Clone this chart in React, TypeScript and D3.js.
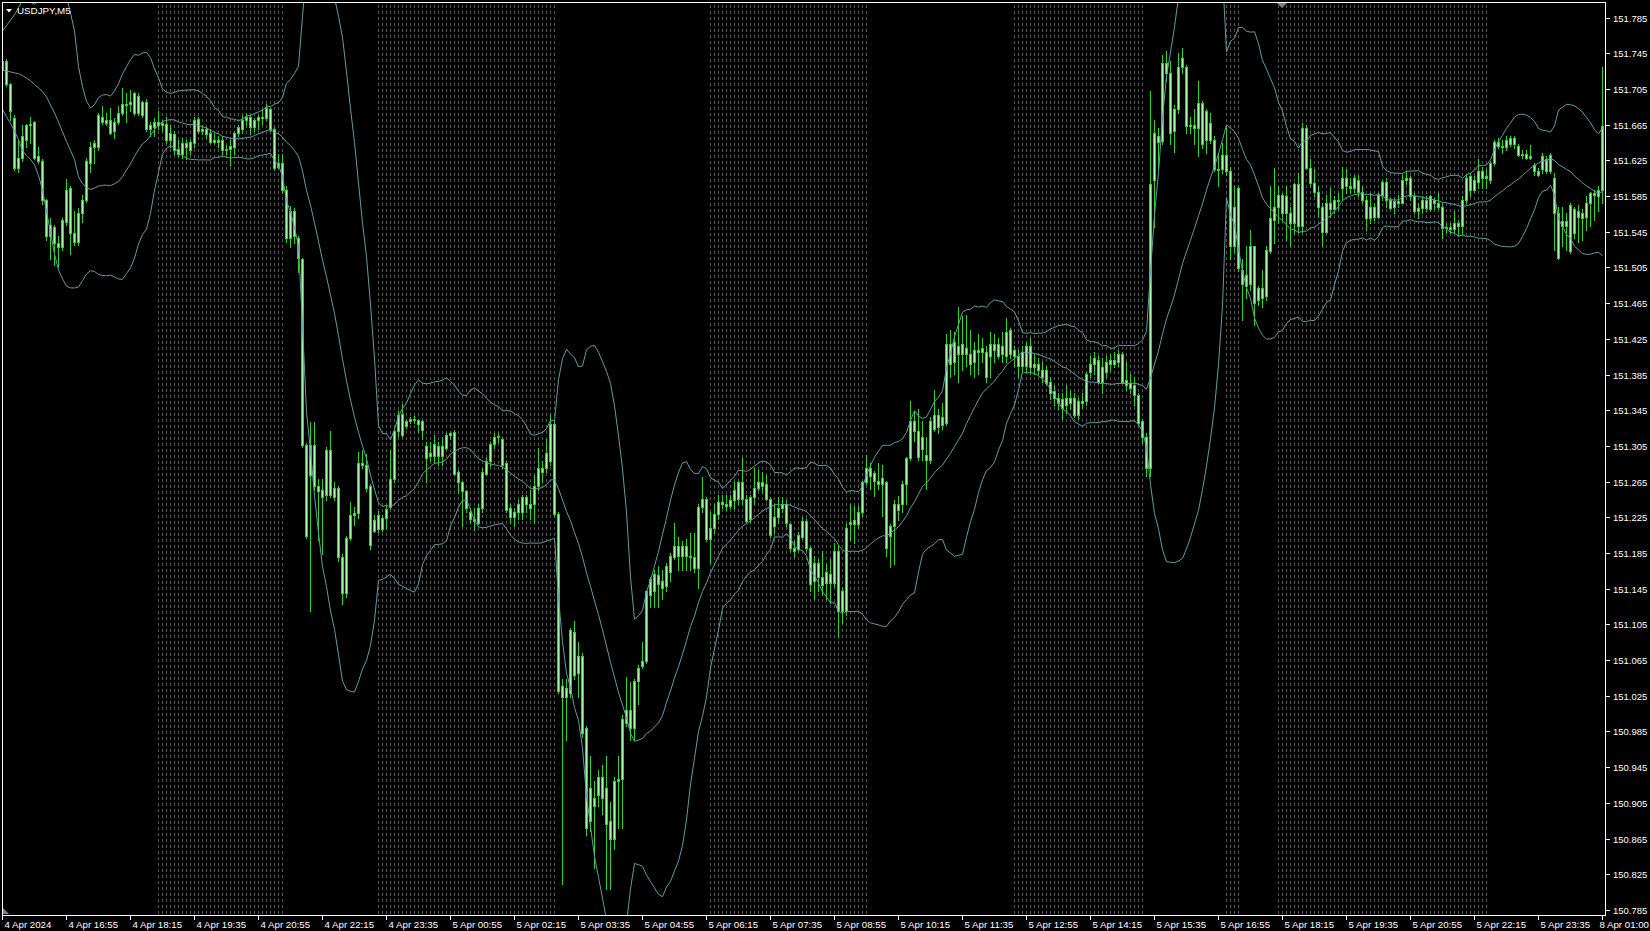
import React, { useEffect, useRef } from "react";
import * as d3 from "d3";

const W = 1650;
const H = 931;
const PLOT = { left: 2, top: 2, right: 1605, bottom: 915 };

const symbolLabel = "USDJPY,M5";

const opens = [
151.726,151.736,151.710,151.672,151.616,151.628,151.648,151.664,151.668,151.630,
151.624,151.580,151.540,151.550,151.532,151.528,151.556,151.594,151.544,151.534,
151.566,151.580,151.622,151.640,151.640,151.674,151.670,151.670,151.658,151.668,
151.678,151.688,151.688,151.678,151.697,151.676,151.690,151.660,151.668,151.664,
151.667,151.666,151.648,151.654,151.638,151.632,151.644,151.636,151.644,151.671,
151.658,151.660,151.656,151.646,151.648,151.648,151.636,151.638,151.640,151.656,
151.660,151.670,151.674,151.662,151.670,151.674,151.672,151.682,151.660,151.618,
151.622,151.592,151.538,151.568,151.538,151.514,151.306,151.272,151.306,151.260,
151.256,151.250,151.300,151.248,151.258,151.180,151.140,151.202,151.228,151.230,
151.286,151.284,151.260,151.210,151.228,151.212,151.224,151.236,151.268,151.322,
151.341,151.327,151.333,151.335,151.334,151.333,151.305,151.294,151.294,151.305,
151.294,151.303,151.317,151.321,151.276,151.264,151.254,151.231,151.223,151.219,
151.235,151.274,151.288,151.307,151.315,151.313,151.286,151.235,151.225,151.231,
151.231,151.248,151.240,151.240,151.260,151.280,151.280,151.288,151.329,151.229,
151.036,151.024,151.028,151.097,151.050,151.070,150.989,150.885,150.910,150.914,
150.934,150.922,150.885,150.865,150.930,150.932,150.995,151.009,150.989,151.042,
151.058,151.064,151.138,151.162,151.150,151.154,151.148,151.164,151.180,151.193,
151.182,151.193,151.182,151.180,151.168,151.237,151.246,151.201,151.213,151.229,
151.242,151.240,151.238,151.244,151.246,151.264,151.246,151.223,151.248,151.258,
151.264,151.262,151.246,151.215,151.225,151.235,151.240,151.217,151.191,151.189,
151.203,151.221,151.191,151.154,151.174,151.158,151.151,151.162,151.151,151.187,
151.120,151.120,151.218,151.218,151.218,151.231,151.264,151.280,151.275,151.266,
151.262,151.264,151.204,151.215,151.240,151.240,151.262,151.291,151.333,151.322,
151.302,151.295,151.289,151.324,151.340,151.328,151.331,151.419,151.399,151.417,
151.408,151.415,151.408,151.399,151.413,151.410,151.410,151.406,151.419,151.406,
151.417,151.406,151.435,151.413,151.406,151.395,151.417,151.393,151.397,151.397,
151.390,151.390,151.377,151.366,151.359,151.357,151.351,151.359,151.359,151.340,
151.355,151.355,151.388,151.397,151.401,151.377,151.388,151.397,151.401,151.399,
151.408,151.379,151.375,151.373,151.362,151.333,151.315,151.280,151.603,151.645,
151.647,151.734,151.723,151.658,151.683,151.729,151.729,151.663,151.665,151.661,
151.689,151.648,151.667,151.648,151.615,151.615,151.631,151.613,151.529,151.594,
151.502,151.484,151.486,151.529,151.469,151.482,151.473,151.523,151.558,151.573,
151.586,151.566,151.566,151.555,151.598,151.551,151.661,151.616,151.600,151.590,
151.573,151.545,151.577,151.570,151.581,151.594,151.605,151.596,151.594,151.603,
151.590,151.581,151.560,151.573,151.562,151.586,151.601,151.581,151.573,151.579,
151.577,151.603,151.605,151.585,151.568,151.571,151.581,151.570,151.581,151.577,
151.573,151.549,151.550,151.548,151.555,151.551,151.581,151.607,151.592,151.601,
151.613,151.605,151.603,151.622,151.646,151.641,151.640,151.650,151.643,151.641,
151.631,151.632,151.628,151.620,151.613,151.615,151.626,151.613,151.605,151.566,
151.551,151.557,151.523,151.570,151.562,151.566,151.562,151.577,151.588,151.585,
151.592,
];

const highs = [
151.750,151.738,151.712,151.676,151.648,151.664,151.666,151.674,151.669,151.640,
151.626,151.582,151.560,151.552,151.540,151.560,151.604,151.596,151.568,151.572,
151.586,151.628,151.646,151.648,151.678,151.686,151.678,151.684,151.672,151.686,
151.706,151.700,151.704,151.702,151.700,151.692,151.694,151.668,151.672,151.680,
151.670,151.674,151.664,151.658,151.648,151.650,151.648,151.648,151.673,151.674,
151.664,151.662,151.660,151.654,151.652,151.652,151.642,151.648,151.658,151.664,
151.676,151.678,151.676,151.672,151.676,151.682,151.688,151.684,151.662,151.632,
151.632,151.596,151.574,151.572,151.540,151.516,151.308,151.332,151.332,151.268,
151.268,151.304,151.322,151.264,151.260,151.184,151.204,151.242,151.236,151.298,
151.300,151.296,151.262,151.228,151.232,151.228,151.238,151.300,151.324,151.344,
151.352,151.335,151.337,151.338,151.335,151.335,151.309,151.309,151.317,151.309,
151.315,151.319,151.321,151.323,151.278,151.266,151.256,151.235,151.235,151.240,
151.280,151.292,151.309,151.319,151.319,151.315,151.288,151.240,151.235,151.244,
151.250,151.250,151.256,151.272,151.303,151.288,151.313,151.341,151.333,151.231,
151.044,151.044,151.101,151.109,151.085,151.073,150.991,150.958,150.930,150.942,
150.947,150.958,150.906,150.934,150.958,151.003,151.046,151.040,151.044,151.060,
151.085,151.144,151.158,151.166,151.170,151.166,151.174,151.185,151.219,151.203,
151.199,151.201,151.207,151.207,151.240,151.270,151.248,151.231,151.240,151.250,
151.250,151.250,151.250,151.264,151.266,151.292,151.250,151.250,151.280,151.278,
151.276,151.272,151.248,151.240,151.248,151.248,151.244,151.219,151.199,151.209,
151.225,151.223,151.193,151.182,151.178,151.187,151.173,151.178,151.196,151.193,
151.147,151.218,151.240,151.238,151.238,151.266,151.295,151.286,151.277,151.286,
151.284,151.266,151.218,151.244,151.249,151.266,151.293,151.355,151.344,151.346,
151.333,151.315,151.337,151.368,151.346,151.353,151.430,151.435,151.433,151.461,
151.450,151.452,151.435,151.421,151.430,151.426,151.417,151.433,151.430,151.426,
151.433,151.448,151.437,151.417,151.413,151.417,151.421,151.426,151.408,151.404,
151.399,151.395,151.382,151.373,151.364,151.364,151.373,151.366,151.364,151.359,
151.364,151.388,151.406,151.410,151.406,151.404,151.406,151.408,151.410,151.413,
151.410,151.399,151.386,151.382,151.364,151.335,151.320,151.703,151.670,151.661,
151.743,151.747,151.736,151.687,151.745,151.751,151.732,151.674,151.683,151.714,
151.692,151.682,151.678,151.652,151.633,151.644,151.663,151.618,151.596,151.596,
151.514,151.529,151.547,151.529,151.484,151.502,151.529,151.596,151.616,151.596,
151.588,151.596,151.573,151.600,151.611,151.667,151.665,151.626,151.615,151.596,
151.577,151.586,151.594,151.585,151.588,151.618,151.615,151.605,151.609,151.609,
151.596,151.585,151.588,151.577,151.588,151.603,151.605,151.583,151.583,151.586,
151.609,151.613,151.607,151.588,151.577,151.585,151.585,151.586,151.583,151.588,
151.577,151.555,151.555,151.568,151.558,151.585,151.609,151.611,151.607,151.626,
151.618,151.615,151.624,151.648,151.650,151.648,151.652,151.652,151.652,151.643,
151.637,151.637,151.642,151.622,151.616,151.633,151.630,151.633,151.611,151.573,
151.573,151.566,151.577,151.573,151.575,151.570,151.585,151.590,151.592,151.596,
151.730,
];

const lows = [
151.724,151.708,151.670,151.614,151.612,151.624,151.640,151.644,151.626,151.622,
151.576,151.536,151.514,151.508,151.506,151.524,151.552,151.520,151.530,151.530,
151.556,151.578,151.612,151.622,151.636,151.666,151.664,151.654,151.650,151.666,
151.676,151.668,151.680,151.676,151.676,151.674,151.658,151.652,151.652,151.660,
151.658,151.644,151.640,151.632,151.630,151.628,151.626,151.632,151.640,151.656,
151.654,151.650,151.644,151.644,151.640,151.632,151.632,151.620,151.632,151.652,
151.656,151.664,151.654,151.658,151.660,151.666,151.670,151.658,151.614,151.616,
151.588,151.534,151.528,151.532,151.500,151.304,151.202,151.120,151.256,151.200,
151.184,151.244,151.248,151.244,151.176,151.128,151.136,151.200,151.216,151.224,
151.280,151.254,151.190,151.208,151.208,151.210,151.212,151.234,151.264,151.316,
151.315,151.325,151.331,151.331,151.321,151.313,151.264,151.288,151.286,151.284,
151.284,151.301,151.313,151.272,151.252,151.215,151.231,151.219,151.211,151.217,
151.231,151.272,151.282,151.303,151.309,151.280,151.231,151.219,151.215,151.223,
151.223,151.231,151.223,151.219,151.256,151.264,151.276,151.284,151.227,151.028,
150.814,150.975,151.024,151.044,151.024,150.979,150.869,150.873,150.832,150.901,
150.893,150.808,150.808,150.853,150.877,150.877,150.991,150.975,150.975,151.016,
151.056,151.062,151.125,151.125,151.125,151.134,151.142,151.154,151.178,151.166,
151.166,151.166,151.166,151.164,151.146,151.231,151.199,151.174,151.207,151.223,
151.235,151.233,151.235,151.235,151.240,151.240,151.219,151.219,151.240,151.256,
151.252,151.244,151.203,151.207,151.219,151.231,151.215,151.187,151.180,151.187,
151.201,151.187,151.142,151.134,151.142,151.138,151.134,151.129,151.147,151.091,
151.107,151.116,151.200,151.196,151.213,151.226,151.262,151.257,151.249,151.257,
151.226,151.182,151.169,151.173,151.222,151.231,151.240,151.289,151.311,151.289,
151.289,151.257,151.286,151.322,151.320,151.324,151.328,151.382,151.386,151.377,
151.390,151.395,151.386,151.382,151.386,151.399,151.377,151.382,151.399,151.404,
151.399,151.399,151.404,151.395,151.382,151.390,151.388,151.386,151.386,151.386,
151.377,151.373,151.357,151.351,151.346,151.335,151.342,151.346,151.337,151.335,
151.348,151.351,151.382,151.386,151.375,151.364,151.382,151.390,151.393,151.395,
151.375,151.368,151.364,151.351,151.328,151.308,151.271,151.271,151.550,151.616,
151.643,151.714,151.643,151.634,151.678,151.723,151.656,151.656,151.643,151.630,
151.639,151.633,151.644,151.613,151.596,151.611,151.609,151.514,151.521,151.501,
151.446,151.471,151.480,151.441,151.463,151.461,151.469,151.521,151.532,151.555,
151.558,151.536,151.529,151.544,151.545,151.545,151.615,151.596,151.585,151.562,
151.529,151.544,151.562,151.566,151.570,151.581,151.588,151.588,151.590,151.585,
151.577,151.547,151.555,151.558,151.560,151.581,151.573,151.570,151.566,151.573,
151.577,151.598,151.581,151.566,151.560,151.566,151.568,151.568,151.570,151.570,
151.538,151.545,151.544,151.545,151.540,151.542,151.577,151.585,151.590,151.594,
151.594,151.594,151.600,151.620,151.639,151.633,151.637,151.641,151.639,151.630,
151.628,151.626,151.626,151.609,151.607,151.611,151.611,151.611,151.525,151.514,
151.529,151.525,151.521,151.538,151.534,151.536,151.547,151.551,151.558,151.568,
151.577,
];

const closes = [
151.736,151.710,151.680,151.616,151.628,151.652,151.664,151.666,151.628,151.624,
151.580,151.540,151.552,151.532,151.528,151.558,151.592,151.544,151.534,151.566,
151.580,151.624,151.640,151.644,151.676,151.668,151.667,151.656,151.668,151.678,
151.688,151.687,151.690,151.700,151.678,151.690,151.660,151.664,151.662,151.668,
151.664,151.648,151.656,151.636,151.632,151.644,151.640,151.646,151.670,151.658,
151.660,151.654,151.646,151.648,151.646,151.636,151.638,151.641,151.656,151.662,
151.670,151.674,151.662,151.670,151.674,151.672,151.684,151.660,151.616,151.622,
151.592,151.538,151.568,151.540,151.516,151.306,151.204,151.306,151.260,151.254,
151.248,151.300,151.250,151.258,151.180,151.140,151.202,151.228,151.230,151.286,
151.284,151.258,151.194,151.222,151.212,151.224,151.234,151.268,151.322,151.340,
151.317,151.333,151.335,151.334,151.329,151.323,151.292,151.297,151.307,151.294,
151.305,151.317,151.319,151.274,151.264,151.254,151.235,151.223,151.221,151.235,
151.276,151.288,151.307,151.315,151.316,151.284,151.233,151.225,151.231,151.240,
151.248,151.240,151.235,151.260,151.280,151.276,151.297,151.329,151.229,151.030,
151.024,151.034,151.099,151.048,151.070,150.983,150.877,150.922,150.901,150.934,
150.910,150.881,150.865,150.930,150.932,150.999,151.009,150.989,151.042,151.056,
151.064,151.142,151.156,151.142,151.160,151.146,151.170,151.182,151.193,151.182,
151.193,151.182,151.180,151.168,151.237,151.246,151.201,151.213,151.229,151.242,
151.240,151.238,151.244,151.256,151.264,151.246,151.221,151.248,151.258,151.264,
151.260,151.246,151.205,151.225,151.235,151.240,151.219,151.191,151.187,151.205,
151.221,151.191,151.150,151.174,151.158,151.149,151.164,151.151,151.187,151.120,
151.142,151.213,151.220,151.222,151.231,151.264,151.280,151.271,151.266,151.262,
151.269,151.191,151.215,151.240,151.233,151.262,151.291,151.333,151.322,151.293,
151.315,151.289,151.333,151.340,151.326,151.337,151.419,151.397,151.421,151.408,
151.419,151.408,151.397,151.413,151.410,151.415,151.382,151.419,151.413,151.419,
151.408,151.433,151.408,151.406,151.395,151.410,151.395,151.417,151.393,151.390,
151.382,151.375,151.364,151.359,151.353,151.348,151.359,151.353,151.340,151.355,
151.353,151.386,151.397,151.404,151.377,151.393,151.399,151.401,151.397,151.408,
151.377,151.373,151.370,151.362,151.331,151.315,151.280,151.599,151.656,151.652,
151.734,151.723,151.656,151.683,151.729,151.740,151.663,151.665,151.661,151.689,
151.643,151.680,151.648,151.615,151.614,151.631,151.613,151.529,151.573,151.504,
151.486,151.497,151.529,151.465,151.482,151.471,151.525,151.560,151.573,151.586,
151.566,151.585,151.555,151.598,151.551,151.661,151.616,151.600,151.590,151.573,
151.545,151.577,151.570,151.581,151.579,151.605,151.596,151.594,151.605,151.590,
151.581,151.560,151.573,151.562,151.586,151.601,151.581,151.571,151.579,151.577,
151.603,151.605,151.585,151.568,151.571,151.581,151.571,151.585,151.577,151.573,
151.549,151.550,151.548,151.555,151.551,151.581,151.605,151.592,151.603,151.613,
151.605,151.607,151.622,151.646,151.641,151.640,151.648,151.643,151.650,151.631,
151.632,151.628,151.630,151.613,151.609,151.630,151.613,151.631,151.566,151.516,
151.557,151.551,151.575,151.544,151.568,151.560,151.577,151.588,151.586,151.592,
151.663,
];

// Bollinger band readings for the first bars (their 20-bar window starts before the visible data)
const earlyMiddle = [
151.726,151.725,151.724,151.723,151.722,151.720,151.717,151.714,151.710,151.706,
151.702,151.696,151.687,151.678,151.668,151.657,151.646,151.636,151.626,
];
const earlyLower = [
151.682,151.674,151.666,151.658,151.648,151.636,151.630,151.626,151.620,151.608,
151.592,151.568,151.544,151.520,151.502,151.492,151.484,151.482,151.482,
];

const BB_PERIOD = 20;
const BB_DEV = 2;

const priceTicks = [
150.785,150.825,150.865,150.905,150.945,150.985,151.025,151.065,151.105,151.145,
151.185,151.225,151.265,151.305,151.345,151.385,151.425,151.465,151.505,151.545,
151.585,151.625,151.665,151.705,151.745,151.785,
];

const timeTickBars = [0,16,32,48,64,80,96,112,128,144,160,176,192,208,224,240,256,272,288,304,320,336,352,368,384,400];
const timeLabels = [
"4 Apr 2024","4 Apr 16:55","4 Apr 18:15","4 Apr 19:35","4 Apr 20:55","4 Apr 22:15",
"4 Apr 23:35","5 Apr 00:55","5 Apr 02:15","5 Apr 03:35","5 Apr 04:55","5 Apr 06:15",
"5 Apr 07:35","5 Apr 08:55","5 Apr 10:15","5 Apr 11:35","5 Apr 12:55","5 Apr 14:15",
"5 Apr 15:35","5 Apr 16:55","5 Apr 18:15","5 Apr 19:35","5 Apr 20:55","5 Apr 22:15",
"5 Apr 23:35","8 Apr 01:00",
];

// dotted session zones (first bar, last bar)
const zoneStarts = [39, 94, 177, 253, 306, 319];
const zoneEnds = [70, 138, 216, 285, 309, 371];

const FONT = "Liberation Sans, Arial, sans-serif";

export default function App() {
  const ref = useRef<SVGSVGElement | null>(null);

  useEffect(() => {
    document.body.style.margin = "0";
    document.body.style.background = "#000";
    const svg = d3.select(ref.current);
    svg.selectAll("*").remove();

    const n = closes.length;
    const x = d3.scaleLinear().domain([0, n - 1]).range([2, 1602]);
    const y = d3.scaleLinear().domain([150.785, 151.785]).range([910, 17.5]);

    svg.append("rect").attr("width", W).attr("height", H).attr("fill", "#000");

    const defs = svg.append("defs");
    defs.append("clipPath").attr("id", "plotClip")
      .append("rect")
      .attr("x", PLOT.left + 1).attr("y", PLOT.top + 1)
      .attr("width", PLOT.right - PLOT.left - 1)
      .attr("height", PLOT.bottom - PLOT.top - 1);

    const plot = svg.append("g").attr("clip-path", "url(#plotClip)");

    // dotted zones
    const zoneG = plot.append("g").attr("shape-rendering", "crispEdges");
    zoneStarts.forEach((s, k) => {
      for (let i = s; i <= zoneEnds[k]; i++) {
        const cx = Math.round(x(i)) + 0.5;
        zoneG.append("line")
          .attr("x1", cx).attr("x2", cx)
          .attr("y1", PLOT.top + 3).attr("y2", PLOT.bottom)
          .attr("stroke", "#575757").attr("stroke-width", 1)
          .attr("stroke-dasharray", "3 3");
      }
    });

    // candles
    const cG = plot.append("g").attr("shape-rendering", "crispEdges");
    for (let i = 0; i < n; i++) {
      const cx = Math.round(x(i));
      const o = opens[i], c = closes[i];
      const hi = Math.max(highs[i], o, c), lo = Math.min(lows[i], o, c);
      const yH = Math.round(y(hi)), yL = Math.round(y(lo));
      cG.append("rect").attr("x", cx).attr("y", yH).attr("width", 1)
        .attr("height", Math.max(1, yL - yH + 1)).attr("fill", "#32d232");
      const yT = Math.round(y(Math.max(o, c)));
      const yB = Math.round(y(Math.min(o, c)));
      const h = Math.max(1, yB - yT + 1);
      cG.append("rect").attr("x", cx - 1).attr("y", yT).attr("width", 3)
        .attr("height", h).attr("fill", "#32d232");
      if (h > 2) {
        cG.append("rect").attr("x", cx).attr("y", yT + 1).attr("width", 1)
          .attr("height", h - 2).attr("fill", "#a6f7a6");
      }
    }

    // Bollinger bands
    const upper: number[] = [], middle: number[] = [], lower: number[] = [];
    for (let i = 0; i < n; i++) {
      if (i < BB_PERIOD - 1) {
        middle.push(earlyMiddle[i]);
        lower.push(earlyLower[i]);
        upper.push(2 * earlyMiddle[i] - earlyLower[i]);
      } else {
        const win = closes.slice(i - BB_PERIOD + 1, i + 1);
        const m = d3.mean(win) as number;
        const sd = Math.sqrt(d3.mean(win, (v) => (v - m) * (v - m)) as number);
        middle.push(m);
        upper.push(m + BB_DEV * sd);
        lower.push(m - BB_DEV * sd);
      }
    }
    const line = d3.line<number>().x((_, i) => Math.round(x(i)) + 0.5).y((v) => y(v));
    [upper, middle, lower].forEach((band) => {
      plot.append("path").attr("d", line(band) as string)
        .attr("fill", "none").attr("stroke", "#5f9ea0").attr("stroke-width", 1);
    });

    // frame
    const fr = svg.append("g").attr("stroke", "#ffffff").attr("stroke-width", 1)
      .attr("shape-rendering", "crispEdges");
    fr.append("line").attr("x1", PLOT.left + 0.5).attr("x2", PLOT.left + 0.5)
      .attr("y1", PLOT.top).attr("y2", PLOT.bottom + 1);
    fr.append("line").attr("x1", PLOT.left).attr("x2", PLOT.right + 1)
      .attr("y1", PLOT.top + 0.5).attr("y2", PLOT.top + 0.5);
    fr.append("line").attr("x1", PLOT.right + 0.5).attr("x2", PLOT.right + 0.5)
      .attr("y1", PLOT.top).attr("y2", PLOT.bottom + 1);
    fr.append("line").attr("x1", PLOT.left).attr("x2", PLOT.right + 1)
      .attr("y1", PLOT.bottom + 0.5).attr("y2", PLOT.bottom + 0.5);

    // price axis
    const pa = svg.append("g");
    priceTicks.forEach((p) => {
      const yy = Math.round(y(p)) + 0.5;
      pa.append("line").attr("x1", PLOT.right + 1).attr("x2", PLOT.right + 5)
        .attr("y1", yy).attr("y2", yy).attr("stroke", "#fff")
        .attr("shape-rendering", "crispEdges");
      pa.append("text").attr("x", PLOT.right + 8).attr("y", yy + 3.5)
        .attr("fill", "#fff").attr("font-family", FONT)
        .attr("font-size", 9.5).text(p.toFixed(3));
    });

    // time axis
    const ta = svg.append("g");
    timeTickBars.forEach((b, k) => {
      const xx = Math.round(x(b)) + 0.5;
      ta.append("line").attr("x1", xx).attr("x2", xx)
        .attr("y1", PLOT.bottom + 1).attr("y2", PLOT.bottom + 5)
        .attr("stroke", "#fff").attr("shape-rendering", "crispEdges");
      const last = k === timeTickBars.length - 1;
      ta.append("text")
        .attr("x", last ? W - 1 : xx + 2).attr("y", 928)
        .attr("text-anchor", last ? "end" : "start")
        .attr("fill", "#fff").attr("font-family", FONT)
        .attr("font-size", 9.7).text(timeLabels[k]);
    });

    // title
    svg.append("path").attr("d", "M6,9 L12,9 L9,12.5 Z").attr("fill", "#fff");
    svg.append("text").attr("x", 17).attr("y", 14).attr("fill", "#fff")
      .attr("font-family", FONT).attr("font-size", 9.8)
      .text(symbolLabel);

    // chart shift marker & corner marker
    svg.append("path").attr("d", "M1277,3 L1287,3 L1282,8 Z").attr("fill", "#808080");
    svg.append("path").attr("d", "M3,908 L3,914 L9,914 Z").attr("fill", "#808080");
  }, []);

  return (
    <svg
      ref={ref}
      width={W}
      height={H}
      style={{ position: "absolute", left: 0, top: 0, display: "block", background: "#000" }}
    />
  );
}
